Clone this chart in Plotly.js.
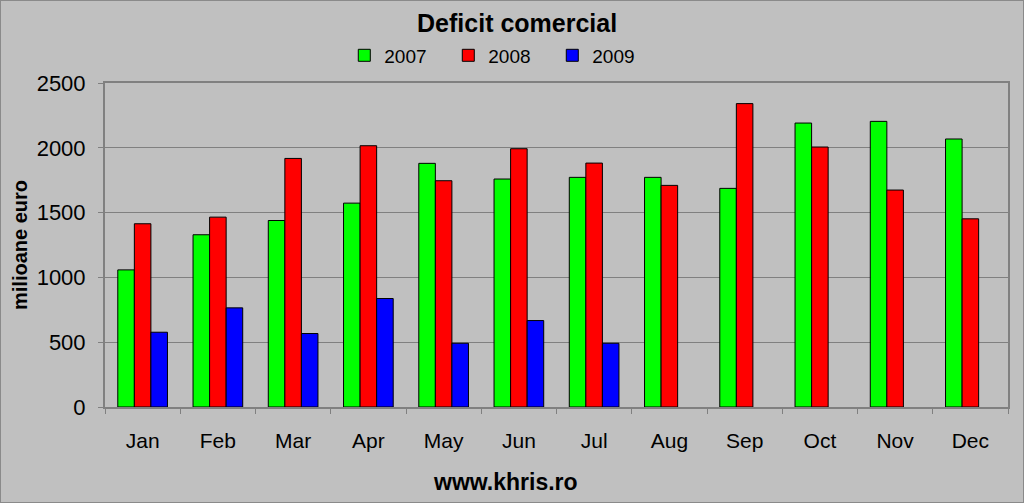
<!DOCTYPE html>
<html>
<head>
<meta charset="utf-8">
<script src="https://cdn.plot.ly/plotly-3.0.1.min.js"></script>
<style>
  html, body { margin: 0; padding: 0; background: #c0c0c0; }
  #chart { width: 1022px; height: 501px; border: 1px solid #8a8a8a; }
</style>
</head>
<body>
<div id="chart"></div>
<script>
const months = ['Jan', 'Feb', 'Mar', 'Apr', 'May', 'Jun', 'Jul', 'Aug', 'Sep', 'Oct', 'Nov', 'Dec'];

const values2007 = [1058, 1329, 1439, 1573, 1880, 1759, 1772, 1772, 1687, 2191, 2204, 2068];
const values2008 = [1414, 1465, 1918, 2016, 1746, 1993, 1882, 1710, 2341, 2006, 1674, 1452];
const values2009 = [577, 765, 567, 837, 492, 667, 492, null, null, null, null, null];

const FONT = "'Liberation Sans', Arial, sans-serif";

function barTrace(name, y, color) {
  return {
    x: months,
    y: y,
    type: 'bar',
    name: name,
    marker: { color: color, line: { color: '#000000', width: 1 } },
  };
}

const traces = [
  barTrace('2007', values2007, '#00ff00'),
  barTrace('2008', values2008, '#ff0000'),
  barTrace('2009', values2009, '#0000ff'),
];

const layout = {
  width: 1022,
  height: 501,
  paper_bgcolor: '#c0c0c0',
  plot_bgcolor: '#c0c0c0',
  font: { family: FONT, color: '#000000', size: 20 },
  margin: { t: 82, r: 15, b: 95, l: 104 },
  bargap: 0.34,
  bargroupgap: 0,
  title: {
    text: '<b>Deficit comercial</b>',
    font: { size: 25, color: '#000000' },
    x: 0.505, xanchor: 'center',
    y: 0.955, yanchor: 'middle',
  },
  showlegend: true,
  legend: {
    orientation: 'h',
    x: 0.265, xanchor: 'left',
    y: 1.085, yanchor: 'middle',
    font: { size: 19 },
    entrywidth: 59,
    itemwidth: 30,
    bgcolor: 'rgba(0,0,0,0)',
    traceorder: 'normal',
  },
  xaxis: {
    type: 'category',
    automargin: false,
    tickson: 'boundaries',
    ticks: 'outside',
    ticklen: 5,
    tickcolor: '#808080',
    tickangle: 0,
    showline: true,
    linecolor: '#808080',
    linewidth: 2,
    mirror: true,
    showgrid: false,
    ticklabelstandoff: 14,
    tickfont: { size: 21 },
  },
  yaxis: {
    range: [0, 2500],
    dtick: 500,
    automargin: false,
    ticks: 'outside',
    ticklen: 5,
    tickcolor: '#808080',
    showline: true,
    linecolor: '#808080',
    linewidth: 2,
    mirror: true,
    gridcolor: '#808080',
    gridwidth: 1,
    zeroline: false,
    ticklabelstandoff: 8,
    tickfont: { size: 22 },
    title: {
      text: '<b>milioane euro</b>',
      font: { size: 20 },
      standoff: 4,
    },
  },
  annotations: [
    {
      text: '<b>www.khris.ro</b>',
      xref: 'paper', yref: 'paper',
      x: 0.444, y: -0.23,
      xanchor: 'center', yanchor: 'middle',
      showarrow: false,
      font: { size: 23, color: '#000000' },
    },
  ],
};

Plotly.newPlot('chart', traces, layout, { displayModeBar: false, responsive: false });
</script>
</body>
</html>
